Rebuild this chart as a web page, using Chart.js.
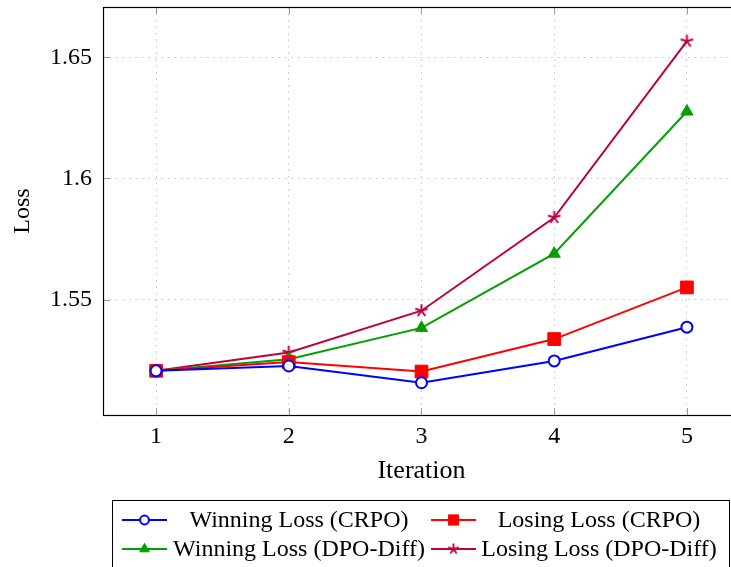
<!DOCTYPE html>
<html>
<head>
<meta charset="utf-8">
<script src="https://cdn.jsdelivr.net/npm/chart.js@4.4.0/dist/chart.umd.min.js"></script>
<style>
  html, body { margin: 0; padding: 0; background: #fff; overflow: hidden; width: 731px; height: 567px; }
  #wrap { width: 745px; height: 567px; }
  #c { display: block; width: 745px; height: 567px; }
</style>
</head>
<body>
<div id="wrap"><canvas id="c" width="745" height="567"></canvas></div>
<script>
// ---- data ----
const iterations = [1, 2, 3, 4, 5];
const winningCRPO = [1.5207, 1.5227, 1.5158, 1.5248, 1.5387];
const losingCRPO = [1.5207, 1.5243, 1.5204, 1.5338, 1.5551];
const winningDPO = [1.5207, 1.5255, 1.5384, 1.5690, 1.6276];
const losingDPO = [1.5207, 1.5283, 1.5455, 1.5839, 1.6566];
const seriesNames = ['Winning Loss (CRPO)', 'Losing Loss (CRPO)', 'Winning Loss (DPO-Diff)', 'Losing Loss (DPO-Diff)'];
const yTicks = [1.55, 1.6, 1.65];
const yTickLabels = ['1.55', '1.6', '1.65'];
const xTicks = [1, 2, 3, 4, 5];

const FONT = '"Liberation Serif", "Times New Roman", serif';

function pts(arr) { return iterations.map((x, i) => ({ x: x, y: arr[i] })); }

// five-spoke asterisk marker
function makeStar(color, r, lw) {
  const s = Math.ceil(2 * r + lw + 2);
  const cv = document.createElement('canvas');
  cv.width = s; cv.height = s;
  const c = cv.getContext('2d');
  c.strokeStyle = color; c.lineWidth = lw; c.lineCap = 'butt';
  c.beginPath();
  for (let k = 0; k < 5; k++) {
    const ang = -Math.PI / 2 + k * 2 * Math.PI / 5;
    c.moveTo(s / 2, s / 2);
    c.lineTo(s / 2 + r * Math.cos(ang), s / 2 + r * Math.sin(ang));
  }
  c.stroke();
  return cv;
}
const starImg = makeStar('#bf0040', 6.5, 2);
const starImgSmall = makeStar('#bf0040', 5.5, 1.8);

const datasets = [
  { label: seriesNames[0], data: pts(winningCRPO), borderColor: '#0000ff', backgroundColor: '#ffffff',
    pointStyle: 'circle', pointRadius: 5.5, pointBorderWidth: 2 },
  { label: seriesNames[1], data: pts(losingCRPO), borderColor: '#ff0000', backgroundColor: '#ff0000',
    pointStyle: 'rect', pointRadius: 9, pointBorderWidth: 1 },
  { label: seriesNames[2], data: pts(winningDPO), borderColor: '#00a000', backgroundColor: '#00a000',
    pointStyle: 'triangle', pointRadius: 7, pointBorderWidth: 1 },
  { label: seriesNames[3], data: pts(losingDPO), borderColor: '#bf0040', backgroundColor: '#bf0040',
    pointStyle: starImg, pointRadius: 7, pointBorderWidth: 2 }
];
datasets.forEach(d => {
  d.borderWidth = 2;
  d.tension = 0;
  d.fill = false;
  d.pointBackgroundColor = d.backgroundColor;
  d.pointBorderColor = d.borderColor;
  d.pointHoverRadius = d.pointRadius;
});

const framePlugin = {
  id: 'frame',
  afterDatasetsDraw(chart) {
    const ctx = chart.ctx;
    const a = chart.chartArea;
    const xs = chart.scales.x, ys = chart.scales.y;
    ctx.save();
    ctx.strokeStyle = '#9a9a9a';
    ctx.lineWidth = 1;
    ctx.beginPath();
    xTicks.forEach(t => {
      const px = Math.round(xs.getPixelForValue(t)) + 0.5;
      ctx.moveTo(px, a.bottom); ctx.lineTo(px, a.bottom - 7);
      ctx.moveTo(px, a.top); ctx.lineTo(px, a.top + 7);
    });
    yTicks.forEach(t => {
      const py = Math.round(ys.getPixelForValue(t)) + 0.5;
      ctx.moveTo(a.left, py); ctx.lineTo(a.left + 7, py);
      ctx.moveTo(a.right, py); ctx.lineTo(a.right - 7, py);
    });
    ctx.stroke();
    ctx.strokeStyle = '#000';
    ctx.lineWidth = 1.2;
    ctx.strokeRect(Math.round(a.left) + 0.5, Math.round(a.top) + 0.5, Math.round(a.right - a.left), Math.round(a.bottom - a.top));
    ctx.restore();
  },
  afterDraw(chart) {
    const ctx = chart.ctx;
    ctx.save();
    ctx.strokeStyle = '#000';
    ctx.lineWidth = 1;
    ctx.strokeRect(112.5, 500.5, 617, 90);
    const rows = [520, 549];
    const cols = [{ l: 122, r: 167, tc: 299 }, { l: 431, r: 476, tc: 599 }];
    ctx.font = '24px ' + FONT;
    ctx.textAlign = 'center';
    ctx.textBaseline = 'middle';
    datasets.forEach((d, i) => {
      const row = rows[Math.floor(i / 2)];
      const col = cols[i % 2];
      ctx.strokeStyle = d.borderColor;
      ctx.lineWidth = 2;
      ctx.beginPath();
      ctx.moveTo(col.l, row); ctx.lineTo(col.r, row);
      ctx.stroke();
      ctx.fillStyle = d.backgroundColor;
      ctx.strokeStyle = d.borderColor;
      ctx.lineWidth = d.pointBorderWidth;
      const style = (i === 3) ? starImgSmall : d.pointStyle;
      Chart.helpers.drawPoint(ctx, { pointStyle: style, radius: d.pointRadius * 0.8, borderWidth: d.pointBorderWidth, rotation: 0 }, (col.l + col.r) / 2, row);
      ctx.fillStyle = '#000';
      ctx.fillText(d.label, col.tc, row + 1);
    });
    ctx.restore();
  }
};

new Chart(document.getElementById('c'), {
  type: 'line',
  data: { datasets: datasets },
  options: {
    responsive: false,
    maintainAspectRatio: false,
    devicePixelRatio: 1,
    animation: false,
    layout: { autoPadding: false, padding: { top: 7, right: 5, bottom: 0, left: 0 } },
    plugins: { legend: { display: false }, tooltip: { enabled: false } },
    scales: {
      x: {
        type: 'linear',
        min: 0.6, max: 5.4,
        afterBuildTicks(s) { s.ticks = xTicks.map(v => ({ value: v })); },
        afterFit(s) { s.height = 152; s.paddingLeft = 0; s.paddingRight = 0; },
        border: { display: false, dash: [1.5, 5] },
        grid: { color: '#c4c4c4', lineWidth: 1, drawTicks: false },
        ticks: { color: '#000', font: { family: FONT, size: 24 }, padding: 7, maxRotation: 0,
                 callback: v => String(v) },
        title: { display: true, text: 'Iteration', color: '#000', font: { family: FONT, size: 26 },
                 padding: { top: 0, bottom: 80 } }
      },
      y: {
        type: 'linear',
        min: 1.5025, max: 1.6707,
        afterBuildTicks(s) { s.ticks = yTicks.map(v => ({ value: v })); },
        afterFit(s) { s.width = 103; s.paddingTop = 0; s.paddingBottom = 0; },
        border: { display: false, dash: [1.5, 5] },
        grid: { color: '#c4c4c4', lineWidth: 1, drawTicks: false },
        ticks: { color: '#000', font: { family: FONT, size: 24 }, padding: 11,
                 callback: (v) => { const i = yTicks.indexOf(v); return i >= 0 ? yTickLabels[i] : ''; } },
        title: { display: true, text: 'Loss', color: '#000', font: { family: FONT, size: 24 },
                 padding: { top: 8, bottom: 0 } }
      }
    }
  },
  plugins: [framePlugin]
});
</script>
</body>
</html>
